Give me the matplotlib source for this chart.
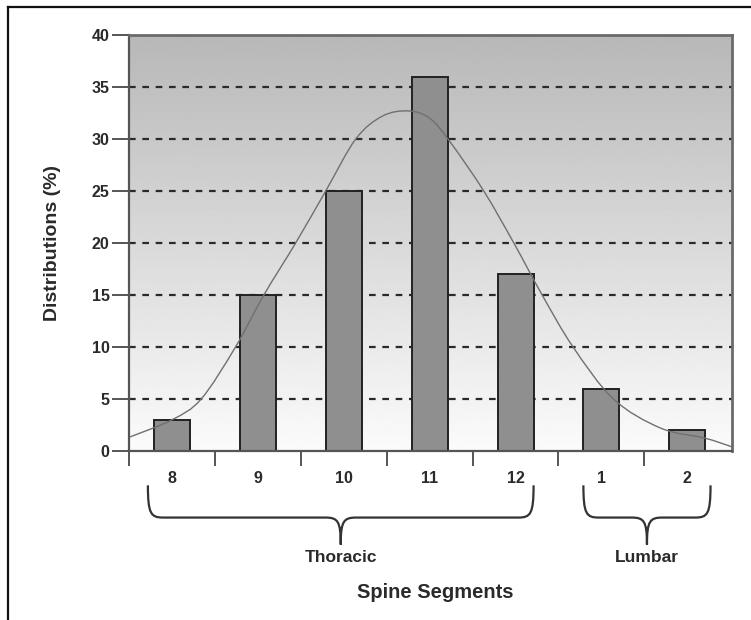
import numpy as np
import matplotlib
matplotlib.use("Agg")
import matplotlib.pyplot as plt
from matplotlib.path import Path
from matplotlib.patches import PathPatch
from matplotlib.lines import Line2D

# Data
segments = ['8', '9', '10', '11', '12', '1', '2']
distributions = [3, 15, 25, 36, 17, 6, 2]

# fitted curve (x in bar-index units)
curve_x = [-0.49, 0.0, 0.34, 0.74, 1.07, 1.44, 1.79, 2.14, 2.45, 2.75, 3.0,
           3.24, 3.63, 3.98, 4.31, 4.67, 5.14, 5.69, 6.2, 6.52]
curve_y = [1.35, 3.0, 5.0, 10.0, 15.0, 20.0, 25.0, 30.0, 32.2, 32.7, 32.0,
           29.7, 25.0, 20.0, 15.0, 10.0, 5.0, 2.2, 1.25, 0.4]

groups = ['Thoracic', 'Lumbar']
group_spans = [(-0.28, 4.21), (4.79, 6.27)]

FONT = ['Liberation Sans', 'DejaVu Sans']
TXT = '#2a2a2a'


def smooth_path(xs, ys):
    # Catmull-Rom through the sampled points, drawn as cubic Bezier segments
    pts = list(zip(xs, ys))
    verts = [pts[0]]
    codes = [Path.MOVETO]
    for i in range(len(pts) - 1):
        p0 = pts[i - 1] if i > 0 else pts[i]
        p1 = pts[i]
        p2 = pts[i + 1]
        p3 = pts[i + 2] if i + 2 < len(pts) else pts[i + 1]
        c1 = (p1[0] + (p2[0] - p0[0]) / 6, p1[1] + (p2[1] - p0[1]) / 6)
        c2 = (p2[0] - (p3[0] - p1[0]) / 6, p2[1] - (p3[1] - p1[1]) / 6)
        verts += [c1, c2, p2]
        codes += [Path.CURVE4] * 3
    return Path(verts, codes)


def brace(ax, x0, x1, y_top, y_mid, y_tip):
    xm = (x0 + x1) / 2
    r = 0.18
    h = y_top - y_mid
    verts = [(x0, y_top),
             (x0, y_mid + h * 0.1), (x0 + r * 0.2, y_mid), (x0 + r, y_mid),
             (xm - r, y_mid),
             (xm - r * 0.2, y_mid), (xm, y_mid - h * 0.1), (xm, y_tip),
             (xm, y_mid - h * 0.1), (xm + r * 0.2, y_mid), (xm + r, y_mid),
             (x1 - r, y_mid),
             (x1 - r * 0.2, y_mid), (x1, y_mid + h * 0.1), (x1, y_top)]
    codes = [Path.MOVETO,
             Path.CURVE4, Path.CURVE4, Path.CURVE4,
             Path.LINETO,
             Path.CURVE4, Path.CURVE4, Path.CURVE4,
             Path.CURVE4, Path.CURVE4, Path.CURVE4,
             Path.LINETO,
             Path.CURVE4, Path.CURVE4, Path.CURVE4]
    p = PathPatch(Path(verts, codes), facecolor='none', edgecolor='#333333',
                  lw=1.6, clip_on=False)
    ax.add_patch(p)
    return xm


def main():
    fig = plt.figure(figsize=(7.51, 6.20), dpi=100)
    fig.patch.set_facecolor('white')

    # outer frame (top and left only)
    fig.add_artist(Line2D([8 / 751, 8 / 751], [0, 1 - 7 / 620], color='#111111',
                          lw=1.6, transform=fig.transFigure))
    fig.add_artist(Line2D([8 / 751, 1], [1 - 7 / 620, 1 - 7 / 620], color='#111111',
                          lw=1.6, transform=fig.transFigure))

    ax = fig.add_axes([129 / 751, 1 - 451 / 620, 603 / 751, 416 / 620])

    # grey gradient background, dark at the top
    grad = np.linspace(0.72, 0.985, 256).reshape(-1, 1)
    ax.imshow(grad, cmap='gray', vmin=0, vmax=1, aspect='auto', origin='upper',
              extent=[-0.49, 6.52, 0, 40], zorder=0)
    ax.set_xlim(-0.49, 6.52)
    ax.set_ylim(0, 40)

    # dashed grid
    for v in range(5, 40, 5):
        ax.axhline(v, color='#2a2a2a', lw=1.6, ls=(0, (3, 3)), zorder=1)

    x = np.arange(len(segments))
    ax.bar(x, distributions, width=0.42, color='#8f8f8f', edgecolor='#222222',
           linewidth=1.4, zorder=2)
    ax.add_patch(PathPatch(smooth_path(curve_x, curve_y), facecolor='none',
                           edgecolor='#707070', lw=1.0, zorder=3))

    for s in ['top', 'right']:
        ax.spines[s].set_color('#6a6a6a')
        ax.spines[s].set_linewidth(2.0)
    for s in ['left', 'bottom']:
        ax.spines[s].set_color('#555555')
        ax.spines[s].set_linewidth(1.6)

    ax.set_yticks(range(0, 41, 5))
    ax.set_yticklabels([str(v) for v in range(0, 41, 5)], fontsize=11.5,
                       fontweight='bold', color=TXT, family=FONT)
    ax.tick_params(axis='y', length=12, width=1.4, color='#555555', pad=2)

    ax.set_xticks(np.arange(-0.5, 6.0, 1.0))
    ax.set_xticklabels([])
    ax.tick_params(axis='x', length=11, width=1.4, color='#555555')
    for xi, lab in zip(x, segments):
        ax.text(xi, -2.6, lab, ha='center', va='center', fontsize=11.5,
                fontweight='bold', color=TXT, family=FONT, clip_on=False)

    ax.set_ylabel('Distributions (%)', fontsize=14, fontweight='bold',
                  color=TXT, family=FONT, labelpad=22)

    for name, (x0, x1) in zip(groups, group_spans):
        xm = brace(ax, x0, x1, -3.3, -6.4, -9.0)
        ax.text(xm, -10.2, name, ha='center', va='center', fontsize=12.5,
                fontweight='bold', color=TXT, family=FONT, clip_on=False)

    ax.text(3.06, -13.6, 'Spine Segments', ha='center', va='center', fontsize=14.5,
            fontweight='bold', color=TXT, family=FONT, clip_on=False)

    fig.savefig('out.png', dpi=100)


if __name__ == "__main__":
    main()
